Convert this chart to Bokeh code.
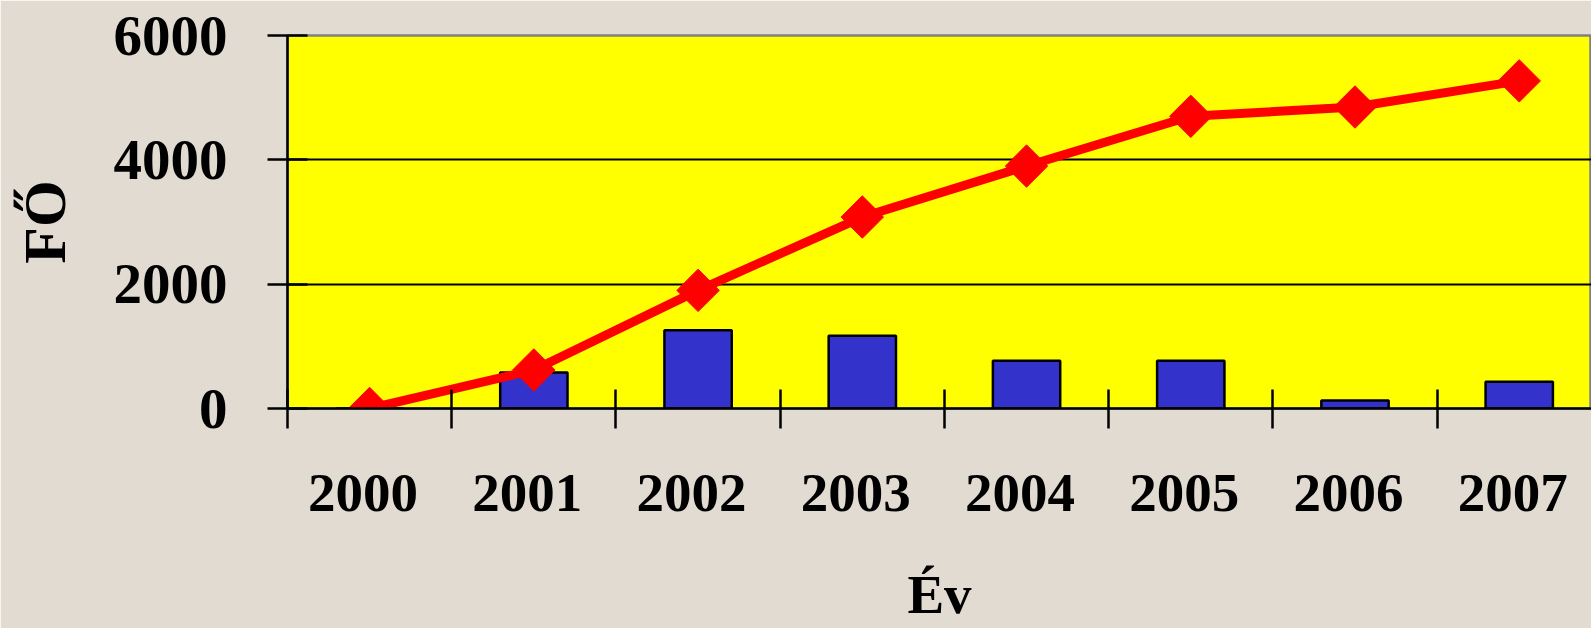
from bokeh.plotting import figure
from bokeh.models import Range1d, FixedTicker
from bokeh.embed import file_html
from bokeh.resources import INLINE

# ---- data ----
years = ["2000", "2001", "2002", "2003", "2004", "2005", "2006", "2007"]
yearly = [0, 580, 1260, 1170, 770, 770, 130, 430]          # bars
cumulative = [0, 620, 1900, 3080, 3900, 4700, 4850, 5270]  # line
y_ticks = [0, 2000, 4000, 6000]
x_title = "Év"
y_title = "FŐ"

x_centers = [i + 0.5 for i in range(len(years))]
x_bounds = list(range(len(years) + 1))
label_pos = [c - 0.04 for c in x_centers]   # labels sit slightly left of centre

p = figure(width=1591, height=628, output_backend="svg", toolbar_location=None,
           x_range=Range1d(0, 7.94), y_range=Range1d(0, 6000),
           min_border_left=287, min_border_right=0, min_border_top=35, min_border_bottom=220)

p.background_fill_color = "#FFFF00"
p.border_fill_color = "#E2DBD2"
p.outline_line_color = "#808080"
p.outline_line_width = 2.5

# bars
p.vbar(x=x_centers, top=yearly, bottom=0, width=0.41,
       fill_color="#3333CC", line_color="black", line_width=2.5)

# line with diamonds
p.line(x=x_centers, y=cumulative, line_color="#FF0000", line_width=9)
p.scatter(x=x_centers, y=cumulative, marker="square", size=30, angle=0.7853981634,
          fill_color="#FF0000", line_color="#FF0000")

# grid
p.xgrid.visible = False
p.ygrid.ticker = FixedTicker(ticks=[2000, 4000])
p.ygrid.grid_line_color = "black"
p.ygrid.grid_line_width = 2

font = "Liberation Serif"

# x axis
xa = p.xaxis[0]
xa.ticker = FixedTicker(ticks=label_pos, minor_ticks=x_bounds)
xa.major_label_overrides = {c: y for c, y in zip(label_pos, years)}
xa.major_tick_in = 0
xa.major_tick_out = 0
xa.minor_tick_in = 19
xa.minor_tick_out = 20
xa.minor_tick_line_color = "black"
xa.minor_tick_line_width = 2.5
xa.axis_line_color = "black"
xa.axis_line_width = 2.5
xa.major_label_text_font = font
xa.major_label_text_font_style = "bold"
xa.major_label_text_font_size = "55px"
xa.major_label_text_color = "black"
xa.major_label_standoff = 46
xa.axis_label = x_title
xa.axis_label_text_font = font
xa.axis_label_text_font_style = "bold"
xa.axis_label_text_font_size = "55px"
xa.axis_label_text_color = "black"
xa.axis_label_standoff = 50

# y axis
ya = p.yaxis[0]
ya.ticker = FixedTicker(ticks=y_ticks)
ya.minor_tick_line_color = None
ya.major_tick_in = 20
ya.major_tick_out = 20
ya.major_tick_line_color = "black"
ya.major_tick_line_width = 2.5
ya.axis_line_color = "black"
ya.axis_line_width = 2.5
ya.major_label_text_font = font
ya.major_label_text_font_style = "bold"
ya.major_label_text_font_size = "57px"
ya.major_label_text_color = "black"
ya.major_label_standoff = 40
ya.axis_label = y_title
ya.axis_label_text_font = font
ya.axis_label_text_font_style = "bold"
ya.axis_label_text_font_size = "60px"
ya.axis_label_text_color = "black"
ya.axis_label_standoff = 33

open("out.html", "w").write(file_html(p, INLINE))
